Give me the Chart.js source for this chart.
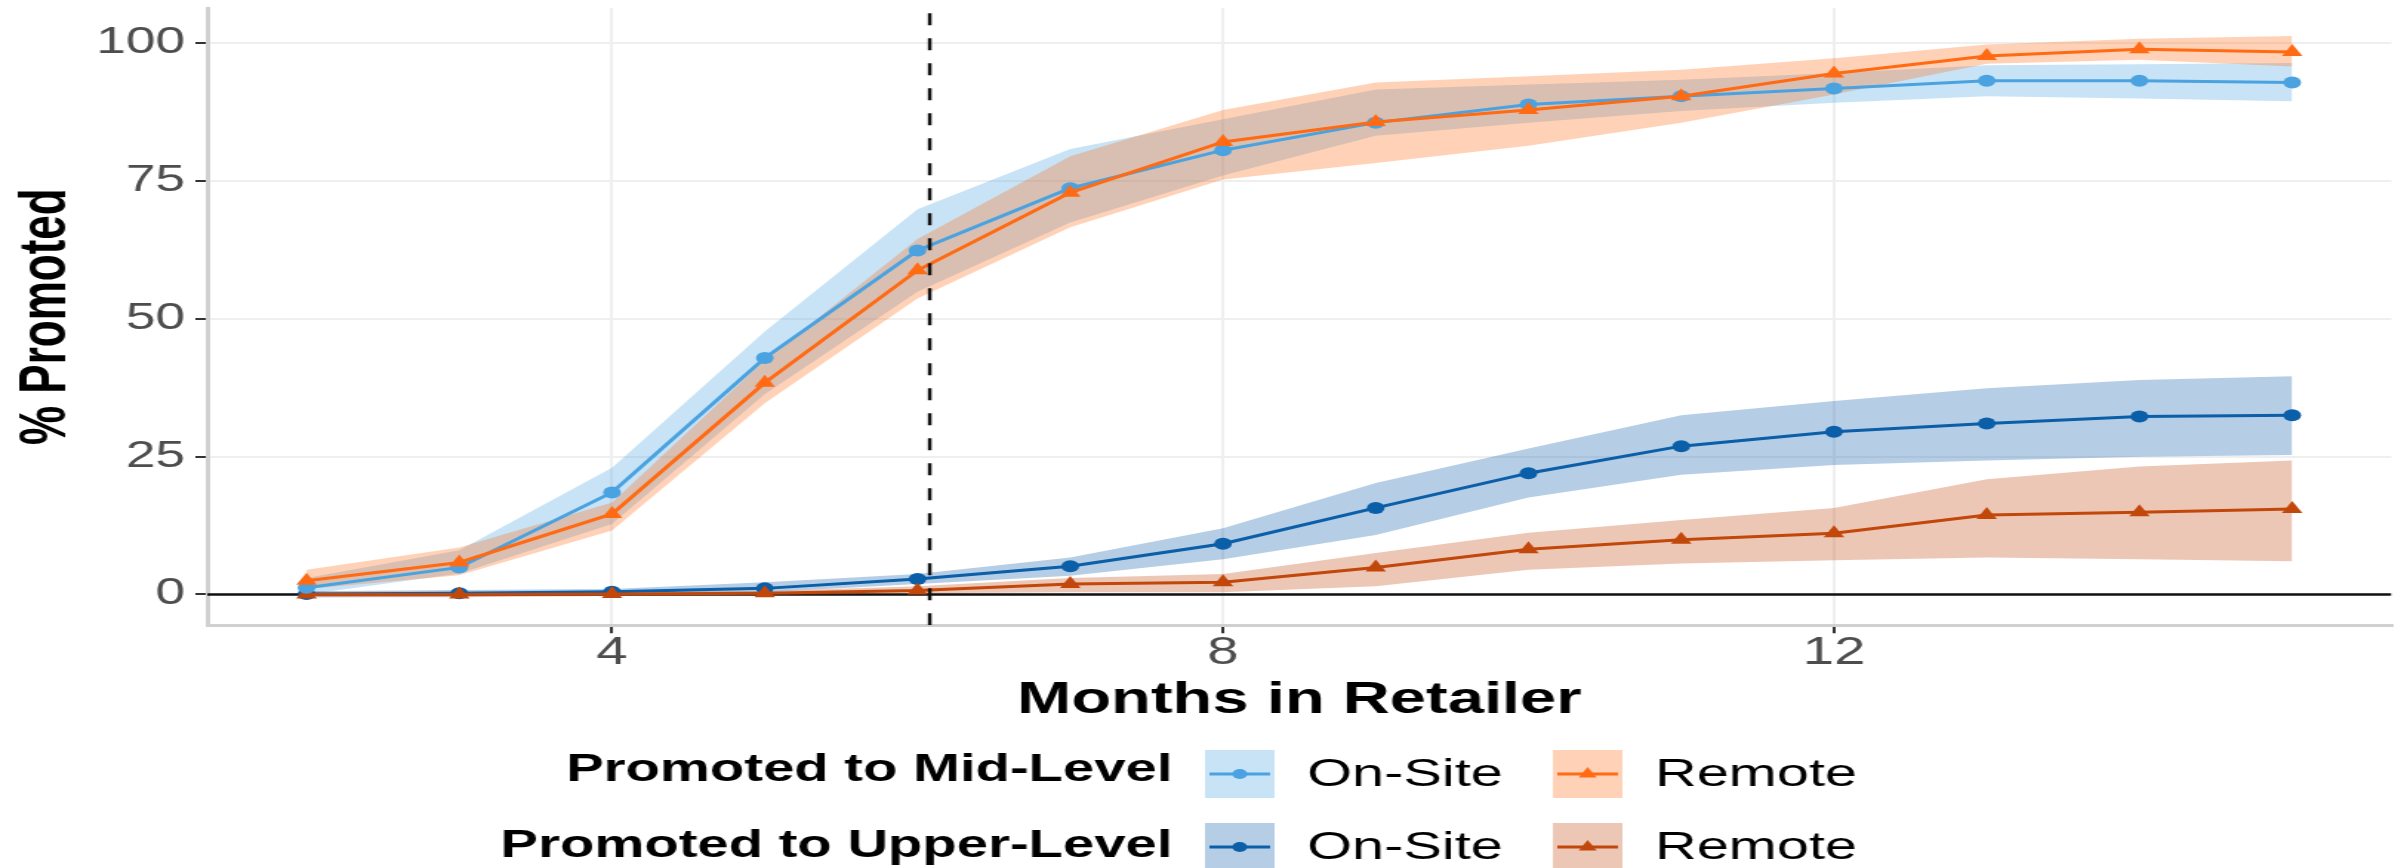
<!DOCTYPE html>
<html>
<head>
<meta charset="utf-8">
<script src="https://cdn.jsdelivr.net/npm/chart.js@4.4.1/dist/chart.umd.min.js"></script>
<style>
  html, body { margin: 0; padding: 0; background: #fff; }
  /* the original figure is stretched sideways, so the canvas is drawn narrow and widened by css */
  #chart { display: block; width: 2407px !important; height: 868px !important; }
</style>
</head>
<body>
<canvas id="chart" width="1626" height="868" style="width:2407px;height:868px"></canvas>
<script>
const months = [2, 3, 4, 5, 6, 7, 8, 9, 10, 11, 12, 13, 14, 15];

// promoted to mid-level (%)
const midOnSite     = [1.2, 4.9, 18.5, 42.9, 62.4, 73.7, 80.6, 85.6, 88.9, 90.4, 91.8, 93.2, 93.2, 92.9];
const midOnSiteLow  = [0.0, 3.8, 12.8, 36.3, 54.9, 67.5, 76.0, 83.2, 85.6, 87.7, 89.2, 90.4, 90.0, 89.5];
const midOnSiteHigh = [3.0, 8.0, 23.0, 47.7, 69.9, 80.8, 86.2, 91.6, 92.5, 93.4, 94.6, 96.0, 96.2, 96.4];
const midRemote     = [2.5, 5.8, 14.6, 38.4, 58.8, 72.9, 82.1, 85.7, 87.9, 90.4, 94.5, 97.7, 98.9, 98.4];
const midRemoteLow  = [1.0, 3.5, 11.6, 34.7, 53.7, 66.6, 75.3, 78.3, 81.4, 85.6, 90.7, 96.3, 97.0, 95.8];
const midRemoteHigh = [4.5, 8.5, 16.7, 42.5, 64.5, 79.5, 87.9, 92.9, 94.0, 95.2, 97.3, 99.8, 100.8, 101.3];

// promoted to upper-level (%)
const upOnSite      = [0.1, 0.2, 0.5, 1.1, 2.8, 5.1, 9.2, 15.7, 22.0, 26.9, 29.5, 31.0, 32.3, 32.5];
const upOnSiteLow   = [-0.5, -0.4, 0.0, 0.4, 1.9, 3.4, 6.4, 10.8, 17.6, 21.7, 23.5, 24.3, 25.0, 25.3];
const upOnSiteHigh  = [0.6, 0.8, 1.0, 2.2, 3.7, 6.7, 12.0, 20.2, 26.5, 32.5, 35.1, 37.4, 38.9, 39.6];
const upRemote      = [0.0, 0.0, 0.1, 0.2, 0.7, 1.9, 2.2, 4.9, 8.2, 9.9, 11.1, 14.4, 14.9, 15.5];
const upRemoteLow   = [-0.5, -0.5, -0.3, -0.2, 0.2, 0.4, 0.4, 1.5, 4.5, 5.6, 6.2, 6.7, 6.4, 6.0];
const upRemoteHigh  = [0.5, 0.5, 0.5, 0.6, 1.5, 3.0, 3.7, 7.5, 11.2, 13.5, 15.7, 20.9, 23.2, 24.3];

const xTicks = [4, 8, 12];
const yTicks = [0, 25, 50, 75, 100];
const cutoffMonth = 6.08;

const groupTitles = ['Promoted to Mid-Level', 'Promoted to Upper-Level'];
const siteLabels = ['On-Site', 'Remote'];

const xMin = 1.35, xMax = 15.65, yMin = -5.6, yMax = 106.4;

const colors = {
    midOnSite: '#4aa3e0',
    midRemote: '#ff6a13',
    upOnSite: '#0b5ea8',
    upRemote: '#c2470a'
};

function fade(hex, a = 0.3) {
    const n = parseInt(hex.slice(1), 16);
    return `rgba(${n >> 16},${(n >> 8) & 255},${n & 255},${a})`;
}

function pts(ys) {
    return months.map((m, i) => ({ x: m, y: ys[i] }));
}

function band(high, low, color, order) {
    return [
        { data: pts(high), fill: '+1', backgroundColor: fade(color), borderColor: 'transparent', borderWidth: 0, pointRadius: 0, order: order },
        { data: pts(low), fill: false, borderColor: 'transparent', borderWidth: 0, pointRadius: 0, order: order }
    ];
}

function series(ys, color, style, radius, order) {
    return {
        data: pts(ys),
        borderColor: color,
        backgroundColor: color,
        borderWidth: 3,
        pointStyle: style,
        pointRadius: radius,
        pointBorderWidth: 0,
        pointBackgroundColor: color,
        fill: false,
        order: order
    };
}

const datasets = [
    // dashed cut-off line, drawn on top
    {
        data: [{ x: cutoffMonth, y: yMin }, { x: cutoffMonth, y: yMax }],
        borderColor: '#111111', borderWidth: 2.5, borderDash: [12, 13],
        pointRadius: 0, fill: false, order: 0
    },
    series(midRemote, colors.midRemote, 'triangle', 8, 1),
    series(midOnSite, colors.midOnSite, 'circle', 6, 2),
    series(upRemote, colors.upRemote, 'triangle', 8, 3),
    series(upOnSite, colors.upOnSite, 'circle', 6, 4),
    ...band(upRemoteHigh, upRemoteLow, colors.upRemote, 5),
    ...band(upOnSiteHigh, upOnSiteLow, colors.upOnSite, 6),
    ...band(midRemoteHigh, midRemoteLow, colors.midRemote, 7),
    ...band(midOnSiteHigh, midOnSiteLow, colors.midOnSite, 8),
    // zero line
    {
        data: [{ x: xMin, y: 0 }, { x: xMax, y: 0 }],
        borderColor: '#111111', borderWidth: 2.5, pointRadius: 0, fill: false, order: 20
    }
];

// two-row legend with a bold title per row, drawn under the plot
const legendKeys = [
    [{ color: colors.midOnSite, style: 'circle', r: 5 }, { color: colors.midRemote, style: 'triangle', r: 7 }],
    [{ color: colors.upOnSite, style: 'circle', r: 5 }, { color: colors.upRemote, style: 'triangle', r: 7 }]
];

const groupLegend = {
    id: 'groupLegend',
    afterDraw(chart) {
        const ctx = chart.ctx;
        const rowY = [774, 847];
        const titleY = [771, 847];
        const boxX = [814, 1049];
        const labelX = [883, 1118];
        ctx.save();
        ctx.textBaseline = 'middle';
        groupTitles.forEach((title, r) => {
            ctx.font = 'bold 38px "Liberation Sans", Arial, sans-serif';
            ctx.fillStyle = '#000';
            ctx.textAlign = 'right';
            ctx.fillText(title, 792, titleY[r]);

            legendKeys[r].forEach((k, j) => {
                const cy = rowY[r];
                ctx.fillStyle = fade(k.color);
                ctx.fillRect(boxX[j], cy - 24, 47, 48);
                ctx.strokeStyle = k.color;
                ctx.lineWidth = 3;
                ctx.beginPath();
                ctx.moveTo(boxX[j] + 3, cy);
                ctx.lineTo(boxX[j] + 44, cy);
                ctx.stroke();
                ctx.fillStyle = k.color;
                Chart.helpers.drawPoint(ctx, { pointStyle: k.style, radius: k.r, rotation: 0, borderWidth: 0 }, boxX[j] + 23.5, cy);

                ctx.font = '39px "Liberation Sans", Arial, sans-serif';
                ctx.fillStyle = '#000';
                ctx.textAlign = 'left';
                ctx.fillText(siteLabels[j], labelX[j], cy + 1);
            });
        });
        ctx.restore();
    }
};

Chart.defaults.font.family = '"Liberation Sans", Arial, Helvetica, sans-serif';

const gridOpts = { color: '#efefef', lineWidth: 2, tickColor: '#333333', tickWidth: 2, tickLength: 8 };

new Chart(document.getElementById('chart'), {
    type: 'line',
    data: { datasets: datasets },
    options: {
        responsive: false,
        animation: false,
        devicePixelRatio: 1,
        events: [],
        layout: { padding: { top: 4.5, left: 5, right: 10.5, bottom: 122.7 } },
        elements: { line: { tension: 0 } },
        plugins: { legend: { display: false }, tooltip: { enabled: false } },
        scales: {
            x: {
                type: 'linear',
                min: xMin,
                max: xMax,
                afterBuildTicks: s => { s.ticks = xTicks.map(v => ({ value: v })); },
                afterFit: s => { s.height = 120; s.paddingLeft = 0; s.paddingRight = 0; },
                grid: gridOpts,
                border: { color: '#d0d0d0', width: 3 },
                ticks: { color: '#4d4d4d', font: { size: 38, lineHeight: 1.08 }, padding: 0, maxRotation: 0, autoSkip: false },
                title: {
                    display: true, text: 'Months in Retailer', color: '#000',
                    font: { size: 44, weight: 'bold', lineHeight: 1.2 }, padding: { top: 0, bottom: 18 }
                }
            },
            y: {
                type: 'linear',
                min: yMin,
                max: yMax,
                afterBuildTicks: s => { s.ticks = yTicks.map(v => ({ value: v })); },
                afterFit: s => { s.width = 135; s.paddingTop = 0; s.paddingBottom = 0; },
                grid: gridOpts,
                border: { color: '#d0d0d0', width: 3 },
                ticks: { color: '#4d4d4d', font: { size: 36 }, padding: 7 },
                title: {
                    display: true, text: '% Promoted', color: '#000',
                    font: { size: 44, weight: 'bold', lineHeight: 1.2 }, padding: 0
                }
            }
        }
    },
    plugins: [groupLegend]
});
</script>
</body>
</html>
